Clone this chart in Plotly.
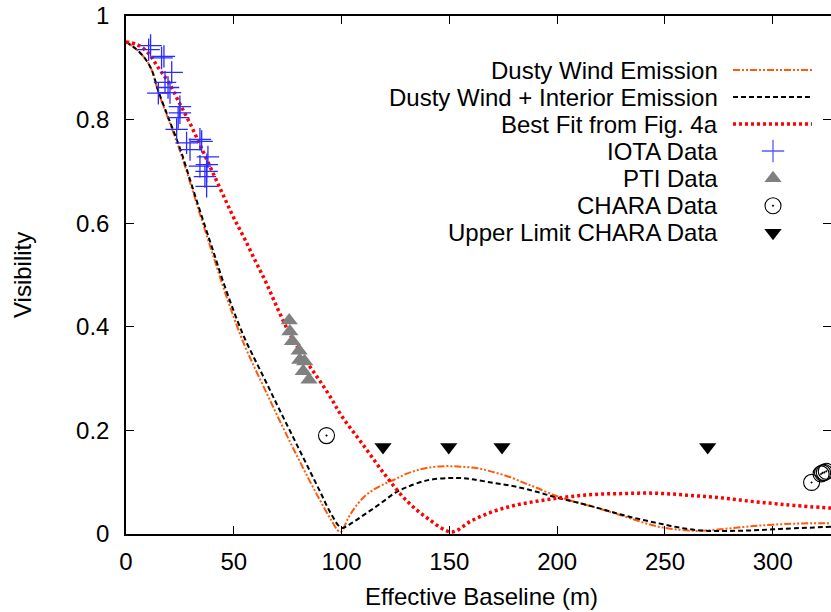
import plotly.graph_objects as go

# ---------------- data ----------------
wind_B = [0, 5, 9, 12, 15, 20, 25, 30, 35, 40, 45, 50, 55, 60, 65, 70, 75, 80, 85, 90, 95, 99, 100,
          103, 106, 110, 115, 120, 125, 130, 135, 140, 148, 155, 163, 170, 178, 185, 190, 198, 205,
          217, 225, 232, 240, 247, 255, 264, 270, 278, 285, 293, 300, 310, 327]
wind_V = [0.95, 0.935, 0.917, 0.895, 0.853, 0.797, 0.74, 0.675, 0.608, 0.543, 0.478, 0.418, 0.364,
          0.318, 0.274, 0.23, 0.187, 0.145, 0.104, 0.065, 0.028, 0.004, 0.005,
          0.03, 0.05, 0.07, 0.086, 0.097, 0.106, 0.116, 0.123, 0.128, 0.131, 0.13, 0.127, 0.12,
          0.11, 0.098, 0.09, 0.076, 0.066, 0.052, 0.042, 0.033, 0.022, 0.014, 0.009, 0.006, 0.007,
          0.01, 0.013, 0.016, 0.018, 0.02, 0.021]

interior_B = [0, 5, 9, 12, 15, 20, 25, 30, 35, 40, 45, 50, 55, 60, 65, 70, 75, 80, 85, 90, 95, 100,
              105, 110, 115, 120, 125, 130, 140, 150, 155, 160, 170, 180, 190, 200, 210, 220, 230,
              240, 250, 260, 270, 280, 290, 300, 310, 327]
interior_V = [0.95, 0.935, 0.917, 0.895, 0.855, 0.8, 0.745, 0.68, 0.615, 0.552, 0.488, 0.43, 0.378,
              0.335, 0.293, 0.25, 0.208, 0.166, 0.124, 0.082, 0.04, 0.012,
              0.022, 0.036, 0.05, 0.065, 0.08, 0.09, 0.104, 0.108, 0.108, 0.106, 0.099, 0.092,
              0.082, 0.07, 0.06, 0.049, 0.037, 0.027, 0.018, 0.01, 0.006, 0.006, 0.007, 0.009,
              0.011, 0.014]

fit_B = [0, 5, 10, 15, 20, 25, 30, 35, 40, 45, 50, 55, 60, 65, 70, 75, 80, 85, 90, 95, 100, 110,
         120, 130, 140, 151, 160, 170, 180, 190, 200, 210, 220, 230, 240, 250, 260, 270, 280, 290,
         300, 310, 327]
fit_V = [0.95, 0.945, 0.93, 0.9, 0.87, 0.83, 0.79, 0.745, 0.70, 0.655, 0.61, 0.57, 0.527, 0.485,
         0.438, 0.394, 0.358, 0.325, 0.295, 0.263, 0.228, 0.172, 0.115, 0.065, 0.03, 0.004,
         0.025, 0.043, 0.055, 0.063, 0.069, 0.074, 0.077, 0.078, 0.079, 0.078, 0.075, 0.072,
         0.068, 0.063, 0.059, 0.055, 0.05]

iota_B = [11.4, 10.5, 17.6, 16.5, 21.2, 18.1, 15.0, 19.5, 20.4, 25.0, 24.2, 23.5, 25.0, 28.1,
          34.3, 29.7, 35.1, 38.0, 37.5, 37.4, 36.6, 37.4, 34.3]
iota_V = [0.943, 0.935, 0.922, 0.919, 0.891, 0.872, 0.851, 0.862, 0.852, 0.825, 0.804, 0.781,
          0.813, 0.755, 0.762, 0.742, 0.758, 0.728, 0.713, 0.700, 0.690, 0.671, 0.71]

pti_B = [75.7, 76.0, 77.2, 80.3, 80.6, 82.9, 82.2, 84.9]
pti_V = [0.412, 0.391, 0.372, 0.354, 0.336, 0.333, 0.314, 0.298]

chara_B = [93.0, 318.0, 322.4, 323.1, 323.9, 324.8]
chara_V = [0.19, 0.0996, 0.116, 0.118, 0.119, 0.121]

upper_B = [119.2, 149.7, 174.4, 269.8]
upper_V = [0.168, 0.168, 0.168, 0.168]

x_ticks = [0, 50, 100, 150, 200, 250, 300]
y_ticks = [0, 0.2, 0.4, 0.6, 0.8, 1]
y_tick_text = ["0", "0.2", "0.4", "0.6", "0.8", "1"]

legend_labels = ["Dusty Wind Emission", "Dusty Wind + Interior Emission", "Best Fit from Fig. 4a",
                 "IOTA Data", "PTI Data", "CHARA Data", "Upper Limit CHARA Data"]

# ---------------- styles ----------------
FONT = "Liberation Sans, Arial, sans-serif"
FS = 24
W, H = 831, 612
L, R, T, B = 126, 0, 16, 78
X_MAX = 327

ORANGE = "#ff5a0a"
BLUE = "#2b2bff"
wind_line = dict(color=ORANGE, width=2, dash="7px,2px,2px,2px,2px,2px")
interior_line = dict(color="black", width=2, dash="5px,3px")
fit_line = dict(color="#ff0000", width=3.5, dash="3px,3px")
iota_marker = dict(symbol="cross-thin-open", size=16, color=BLUE, line=dict(color=BLUE, width=1.3))
iota_leg_marker = dict(symbol="cross-thin-open", size=16, color="#5a5aff", line=dict(color="#5a5aff", width=1.3))
pti_marker = dict(symbol="triangle-up", size=15, color="#808080")
chara_marker = dict(symbol="circle-open-dot", size=16, color="black", line=dict(color="black", width=1.1))
upper_marker = dict(symbol="triangle-down", size=15, color="black")

fig = go.Figure()
fig.add_trace(go.Scatter(x=wind_B, y=wind_V, mode="lines", line=wind_line, line_shape="spline"))
fig.add_trace(go.Scatter(x=interior_B, y=interior_V, mode="lines", line=interior_line, line_shape="spline"))
fig.add_trace(go.Scatter(x=fit_B, y=fit_V, mode="lines", line=fit_line, line_shape="spline"))
fig.add_trace(go.Scatter(x=iota_B, y=iota_V, mode="markers", marker=iota_marker))
fig.add_trace(go.Scatter(x=pti_B, y=pti_V, mode="markers", marker=pti_marker))
fig.add_trace(go.Scatter(x=chara_B, y=chara_V, mode="markers", marker=chara_marker))
fig.add_trace(go.Scatter(x=upper_B, y=upper_V, mode="markers", marker=upper_marker))
# dummy trace to materialise mirrored right axis ticks
fig.add_trace(go.Scatter(x=[None], y=[None], xaxis="x", yaxis="y2", mode="markers"))

# ---------------- custom legend (pixel-like auxiliary axes) ----------------
row_y = [70, 97, 124, 151, 178.3, 205.7, 232.7]
text_right = 720
line_x0, line_x1, mark_x = 733, 812, 773
styles = [("line", wind_line), ("line", interior_line), ("line", fit_line),
          ("marker", iota_leg_marker), ("marker", pti_marker), ("marker", chara_marker),
          ("marker", upper_marker)]
annotations = []
for lab, yy, (kind, st) in zip(legend_labels, row_y, styles):
    if kind == "line":
        fig.add_trace(go.Scatter(x=[line_x0, line_x1], y=[yy, yy], mode="lines", line=st,
                                 xaxis="x2", yaxis="y3", cliponaxis=False))
    else:
        fig.add_trace(go.Scatter(x=[mark_x], y=[yy], mode="markers", marker=st,
                                 xaxis="x2", yaxis="y3", cliponaxis=False))
    annotations.append(dict(text=lab, x=text_right, y=yy, xref="x2", yref="y3",
                            xanchor="right", yanchor="middle", showarrow=False,
                            font=dict(family=FONT, size=FS, color="black")))

pw = W - L - R
ph = H - T - B
annotations.append(dict(text="Effective Baseline (m)", x=(482 - L) / pw, y=-(596 - (H - B)) / ph,
                        xref="paper", yref="paper", xanchor="center", yanchor="middle",
                        showarrow=False, font=dict(family=FONT, size=FS, color="black")))
annotations.append(dict(text="Visibility", x=(22 - L) / pw, y=0.5, xref="paper", yref="paper",
                        xanchor="center", yanchor="middle", textangle=-90, showarrow=False,
                        font=dict(family=FONT, size=FS, color="black")))

axis_common = dict(showgrid=False, zeroline=False, ticks="inside", ticklen=8, tickwidth=1,
                   tickcolor="black", linecolor="black", linewidth=1.5,
                   tickfont=dict(family=FONT, size=FS, color="black"))

fig.update_layout(
    width=W, height=H, margin=dict(l=L, r=R, t=T, b=B, pad=0),
    paper_bgcolor="white", plot_bgcolor="white", showlegend=False,
    font=dict(family=FONT, size=FS, color="black"),
    xaxis=dict(range=[0, X_MAX], tickvals=x_ticks, showline=True, mirror="ticks",
               ticklabelstandoff=5, **axis_common),
    yaxis=dict(range=[0, 1], tickvals=y_ticks, ticktext=y_tick_text, showline=True, mirror=False,
               ticklabelstandoff=10, **axis_common),
    yaxis2=dict(range=[0, 1], tickvals=y_ticks, overlaying="y", side="right", anchor="x",
                showline=False, showticklabels=False, showgrid=False, zeroline=False,
                ticks="inside", ticklen=8, tickwidth=1, tickcolor="black"),
    xaxis2=dict(range=[L, W - R], overlaying="x", visible=False, anchor="y3"),
    yaxis3=dict(range=[H - B, T], overlaying="y", visible=False, anchor="x2"),
    annotations=annotations,
)

fig.write_html("out.html")
